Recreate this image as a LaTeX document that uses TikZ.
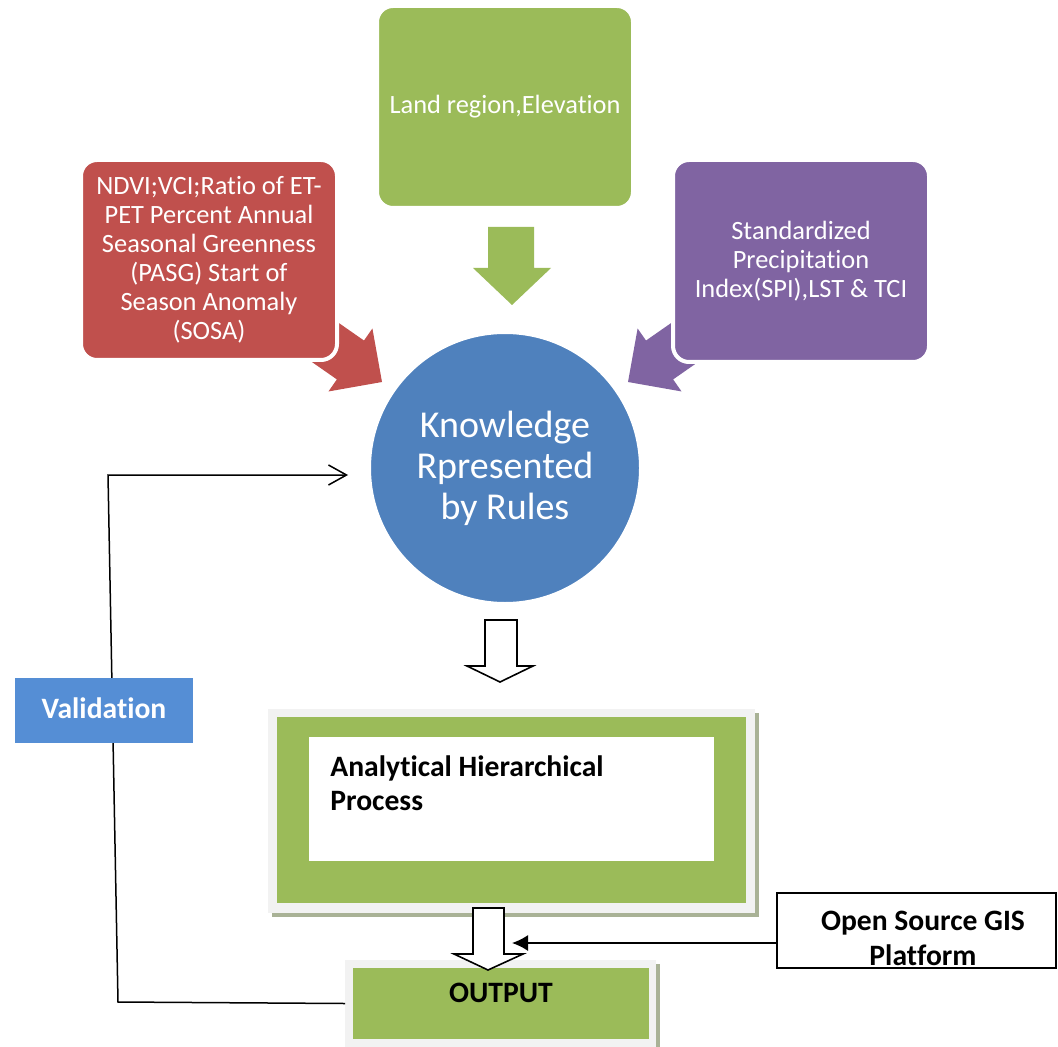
\documentclass[tikz,border=0pt]{standalone}
\usepackage{fontspec}
\setmainfont{Carlito}[Ligatures={NoCommon}]
\usetikzlibrary{arrows.meta}
\definecolor{cgreen}{HTML}{9BBB59}
\definecolor{cred}{HTML}{C0504D}
\definecolor{cpurple}{HTML}{8064A2}
\definecolor{cblue}{HTML}{4F81BD}
\definecolor{cval}{HTML}{558ED5}
\definecolor{cframe}{HTML}{F2F2F2}
\definecolor{cshadow}{HTML}{A9B296}
\begin{document}
\begin{tikzpicture}[x=0.5pt,y=-0.5pt,
  topbox/.style={draw=white,line width=2pt,rounded corners=8pt,text=white,align=center,inner sep=0pt,
     minimum width=128pt,font=\fontsize{13.2}{14.5}\selectfont},
  hollow/.style={draw=black,line width=0.8pt,fill=white,line join=miter},
  plain/.style={draw=none,inner sep=0pt,outer sep=0pt},
  conn/.style={line width=0.75pt,draw=black},
  boldtxt/.style={font=\bfseries\fontsize{14.8}{17}\selectfont}
]
\useasboundingbox (0,0) rectangle (1058,1047);

% block arrows (behind the boxes)
\begin{scope}[shift={(382,382)},rotate=-34.9]
  \fill[cred] (0,0) -- (-38.5,-38.4) -- (-38.5,-23.7) -- (-130,-23.7) -- (-130,23.7) -- (-38.5,23.7) -- (-38.5,38.4) -- cycle;
\end{scope}
\begin{scope}[shift={(628,382)},rotate=-145.1]
  \fill[cpurple] (0,0) -- (-38.5,-38.4) -- (-38.5,-23.7) -- (-130,-23.7) -- (-130,23.7) -- (-38.5,23.7) -- (-38.5,38.4) -- cycle;
\end{scope}
\fill[cgreen] (488,227) -- (534,227) -- (534,268) -- (551,268) -- (512,305) -- (473,268) -- (488,268) -- cycle;

% top boxes
\node[topbox,fill=cgreen,minimum height=101pt] (land) at (505,107) {Land region,Elevation};
\node[topbox,fill=cred,minimum height=100pt] (ndvi) at (209,260)
  {NDVI;VCI;Ratio of ET-\\PET Percent Annual\\Seasonal Greenness\\(PASG) Start of\\Season Anomaly\\(SOSA)};
\node[topbox,fill=cpurple,minimum height=101pt] (spi) at (801,261)
  {Standardized\\Precipitation\\Index(SPI),LST \& TCI};

% circle
\node[circle,draw=white,line width=2pt,fill=cblue,minimum size=136pt,inner sep=0pt,text=white,align=center,
  font=\fontsize{19}{20.5}\selectfont] (know) at (505,468) {Knowledge\\Rpresented\\by Rules};

% hollow arrow 1
\draw[hollow] (485,620) -- (517,620) -- (517,666) -- (533,666) -- (500,682) -- (467,666) -- (485,666) -- cycle;

% AHP box
\fill[cshadow] (272,713) rectangle (759,917);
\node[plain,fill=cframe,minimum width=243.5pt,minimum height=102pt] (ahpframe) at (511.5,811) {};
\node[plain,fill=cgreen,minimum width=234.5pt,minimum height=93pt] (ahp) at (511.5,810) {};
\node[plain,fill=white,minimum width=202.5pt,minimum height=62pt] (ahpin) at (511.5,799) {};
\node[boldtxt,anchor=west,align=left,inner sep=0pt] (ahptext) at (330,783) {Analytical Hierarchical\\Process};

% OUTPUT box
\fill[cshadow] (349,964) rectangle (660,1047);
\node[plain,fill=cframe,minimum width=155.5pt,minimum height=43.5pt] (outframe) at (500.5,1003.5) {};
\node[plain,fill=cgreen,minimum width=148pt,minimum height=35.5pt] (out) at (501,1003.5) {};
\node[boldtxt,inner sep=0pt] (outtext) at (501,993) {OUTPUT};

% hollow arrow 2
\draw[hollow] (473,908) -- (504,908) -- (504,954) -- (523,954) -- (488,970) -- (454,954) -- (473,954) -- cycle;

% GIS box
\node[draw=black,line width=0.8pt,minimum width=139.5pt,minimum height=37.5pt,inner sep=0pt] (gis) at (916.5,930.5) {};
\node[boldtxt,align=center,inner sep=0pt,font=\bfseries\fontsize{14.8}{17.5}\selectfont] (gistext) at (923,938) {Open Source GIS\\Platform};
\coordinate (gisend) at (512,943);
\draw[conn,-{Latex[length=8pt,width=8pt]}] ([yshift=-6.25pt]gis.west) -- (gisend);

% feedback line
\coordinate (fb1) at (118,1002);
\coordinate (fb2) at (108,475);
\coordinate (fbend) at (348,475);
\draw[conn,-{Straight Barb[length=9pt,width=10pt]}] (outframe.west) -- (fb1) -- (fb2) -- (fbend);

% Validation
\node[plain,fill=cval,minimum width=89pt,minimum height=32.5pt,text=white,boldtxt] (val) at (104,710.5) {};
\node[boldtxt,text=white,inner sep=0pt] (valtext) at (104,708) {Validation};
\end{tikzpicture}
\end{document}
